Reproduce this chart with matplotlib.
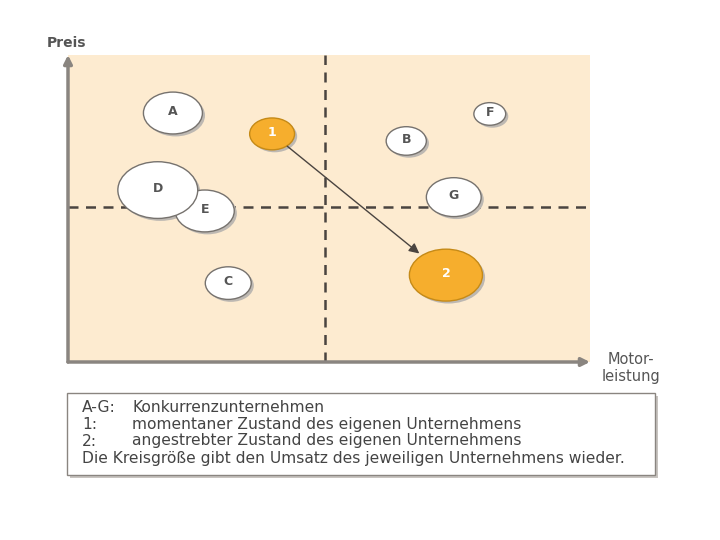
import matplotlib.pyplot as plt
from matplotlib.patches import Ellipse, Rectangle

# positions in the Preis / Motorleistung plane (0..100), diameter = Umsatz
names = ['C', 'E', 'D', 'A', 'B', 'F', 'G', '1', '2']
motor = [30.7, 26.2, 17.2, 20.1, 64.8, 80.8, 73.9, 39.1, 72.4]
preis = [25.7, 49.2, 56.0, 81.1, 72.0, 80.8, 53.7, 74.3, 28.3]
umsatz = [8.8, 11.3, 15.3, 11.3, 7.7, 6.1, 10.5, 8.6, 14.0]
own = ['1', '2']
x_split = 49.2
y_split = 50.5

legend_lines = [('A-G:', 'Konkurrenzunternehmen'),
                ('1:', 'momentaner Zustand des eigenen Unternehmens'),
                ('2:', 'angestrebter Zustand des eigenen Unternehmens')]
legend_note = 'Die Kreisgröße gibt den Umsatz des jeweiligen Unternehmens wieder.'

W, H = 720, 540
fig = plt.figure(figsize=(7.2, 5.4), dpi=100)
fig.patch.set_facecolor('white')

# main plot area (pixel box 68..590 x 55..362)
ax = fig.add_axes([68 / W, (H - 362) / H, 522 / W, 307 / H])
ax.set_xlim(0, 100)
ax.set_ylim(0, 100)
ax.axis('off')
ax.add_patch(Rectangle((0, 0), 100, 100, facecolor='#fdebd0', edgecolor='none', zorder=0))

# keep the circles slightly flattened like the original
px_x = 522 / 100
px_y = 307 / 100
flat = 0.71

ax.axvline(x_split, color='#4a4440', lw=1.8, ls=(0, (4, 3)), zorder=1)
ax.axhline(y_split, color='#4a4440', lw=1.8, ls=(0, (4, 3)), zorder=1)

patches = {}
for n, x, y, d in zip(names, motor, preis, umsatz):
    w = d
    h = d * px_x * flat / px_y
    sh = Ellipse((x + 0.5, y - 0.8), w, h, facecolor='#bdb8b2', edgecolor='none', zorder=2)
    ax.add_patch(sh)
    if n in own:
        fc, ec, tc = '#f6ae2d', '#c58a17', 'white'
    else:
        fc, ec, tc = 'white', '#76726e', '#555555'
    e = Ellipse((x, y), w, h, facecolor=fc, edgecolor=ec, lw=1.0, zorder=3)
    ax.add_patch(e)
    patches[n] = e
    ax.text(x, y + 0.5, n, ha='center', va='center', fontsize=9, color=tc,
            fontweight='bold', zorder=4)

i1, i2 = names.index('1'), names.index('2')
ax.annotate('', xy=(motor[i2], preis[i2]), xytext=(motor[i1], preis[i1]),
            arrowprops=dict(arrowstyle='-|>', color='#4a4440', lw=1.0,
                            patchA=patches['1'], patchB=patches['2'],
                            shrinkA=0, shrinkB=2, mutation_scale=15),
            zorder=5)

# axes with arrows
ax.annotate('', xy=(0, 100), xytext=(0, 0), xycoords='data',
            arrowprops=dict(arrowstyle='-|>', color='#8a8580', lw=2.5,
                            shrinkA=0, shrinkB=0, mutation_scale=12), zorder=6)
ax.annotate('', xy=(100, 0), xytext=(0, 0), xycoords='data',
            arrowprops=dict(arrowstyle='-|>', color='#8a8580', lw=2.5,
                            shrinkA=0, shrinkB=0, mutation_scale=12), zorder=6)

fig.text(47 / W, 1 - 43 / H, 'Preis', fontsize=10, color='#555555',
         fontweight='bold', ha='left', va='center', family='DejaVu Sans')
fig.text(631 / W, 1 - 368 / H, 'Motor-\nleistung', fontsize=10.5, color='#555555',
         ha='center', va='center', linespacing=1.15, family='DejaVu Sans')

# legend box
lg = fig.add_axes([0, 0, 1, 1], zorder=-1)
lg.set_xlim(0, W)
lg.set_ylim(H, 0)
lg.axis('off')
lg.add_patch(Rectangle((70, 396), 588, 82, facecolor='#c8c4c0', edgecolor='none'))
lg.add_patch(Rectangle((67, 393), 588, 82, facecolor='white', edgecolor='#8a8580', lw=1.0))
for i, (k, t) in enumerate(legend_lines):
    yy = 408 + i * 16.5
    lg.text(82, yy, k, fontsize=11.2, color='#444444', va='center', family='DejaVu Sans')
    lg.text(132, yy, t, fontsize=11.2, color='#444444', va='center', family='DejaVu Sans')
lg.text(82, 459, legend_note, fontsize=11.2, color='#444444', va='center', family='DejaVu Sans')

fig.savefig('out.png', dpi=100, facecolor='white')
